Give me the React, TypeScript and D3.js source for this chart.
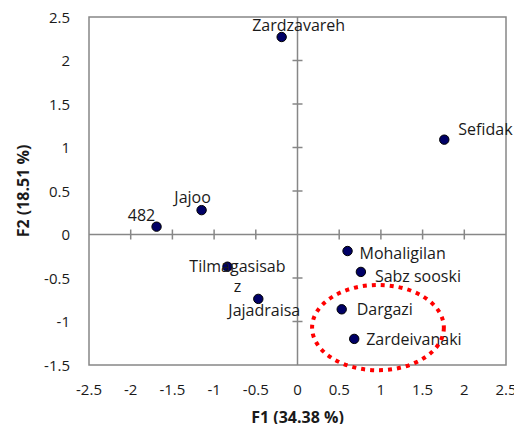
import React, { useEffect, useRef } from "react";
import * as d3 from "d3";

const names = ["Zardzavareh", "Sefidak", "Jajoo", "482", "Tilmagasisabz", "Jajadraisa", "Mohaligilan", "Sabz sooski", "Dargazi", "Zardeivanaki"];
const f1 = [-0.19, 1.76, -1.15, -1.69, -0.84, -0.47, 0.6, 0.76, 0.53, 0.68];
const f2 = [2.27, 1.09, 0.28, 0.09, -0.37, -0.74, -0.19, -0.43, -0.86, -1.2];
// label text lines (Tilmagasisabz wraps in the original)
const labelLines = [["Zardzavareh"], ["Sefidak"], ["Jajoo"], ["482"], ["Tilmagasisab", "z"], ["Jajadraisa"], ["Mohaligilan"], ["Sabz sooski"], ["Dargazi"], ["Zardeivanaki"]];
const labelDx = [17, 14, -9, -15, 10, 6, 12, 14, 15, 12];
const labelDy = [-6, -5, -7, -6, 5, 17, 8, 10, 6, 6];
const labelAnchor = ["middle", "start", "middle", "middle", "middle", "middle", "start", "start", "start", "start"];
const xTicks = [-2.5, -2, -1.5, -1, -0.5, 0, 0.5, 1, 1.5, 2, 2.5];
const yTicks = [-1.5, -1, -0.5, 0, 0.5, 1, 1.5, 2, 2.5];
const ellipse = { cx: 0.965, cy: -1.07, rx: 0.79, ry: 0.49 };

export default function App() {
  const svgRef = useRef<SVGSVGElement>(null);

  useEffect(() => {
    if (!svgRef.current) return;
    const svg = d3.select(svgRef.current);
    svg.selectAll("*").remove();

    const left = 89, right = 506, top = 17, bottom = 365;
    const x = d3.scaleLinear().domain([-2.5, 2.5]).range([left, right]);
    const y = d3.scaleLinear().domain([-1.5, 2.5]).range([bottom, top]);
    const font = "'Open Sans', Lato, sans-serif";
    const grey = "#878787";
    const ink = "#1a1a1a";

    // plot box
    svg.append("rect")
      .attr("x", left).attr("y", top)
      .attr("width", right - left).attr("height", bottom - top)
      .attr("fill", "none").attr("stroke", grey).attr("stroke-width", 1.5);

    // zero axes with crossing ticks
    svg.append("line")
      .attr("x1", left).attr("x2", right).attr("y1", y(0)).attr("y2", y(0))
      .attr("stroke", grey).attr("stroke-width", 1.5);
    svg.append("line")
      .attr("x1", x(0)).attr("x2", x(0)).attr("y1", top).attr("y2", bottom)
      .attr("stroke", grey).attr("stroke-width", 1.5);

    svg.append("g").selectAll("line")
      .data(xTicks.filter((t) => t > -2.5 && t < 2.5 && t !== 0))
      .join("line")
      .attr("x1", (d) => x(d)).attr("x2", (d) => x(d))
      .attr("y1", y(0) - 5).attr("y2", y(0) + 5)
      .attr("stroke", grey).attr("stroke-width", 1.5);
    svg.append("g").selectAll("line")
      .data(yTicks.filter((t) => t > -1.5 && t < 2.5 && t !== 0))
      .join("line")
      .attr("x1", x(0) - 5).attr("x2", x(0) + 5)
      .attr("y1", (d) => y(d)).attr("y2", (d) => y(d))
      .attr("stroke", grey).attr("stroke-width", 1.5);

    // tick labels
    svg.append("g").selectAll("text")
      .data(xTicks).join("text")
      .attr("x", (d) => x(d)).attr("y", bottom + 30)
      .attr("text-anchor", "middle")
      .attr("font-family", font).attr("font-size", 15).attr("fill", ink)
      .text((d) => String(d));
    svg.append("g").selectAll("text")
      .data(yTicks).join("text")
      .attr("x", left - 19).attr("y", (d) => y(d) + 5.5)
      .attr("text-anchor", "end")
      .attr("font-family", font).attr("font-size", 15).attr("fill", ink)
      .text((d) => String(d));

    // axis titles
    svg.append("text")
      .attr("x", x(0)).attr("y", 423)
      .attr("text-anchor", "middle")
      .attr("font-family", font).attr("font-size", 16).attr("font-weight", "bold").attr("fill", ink)
      .text("F1 (34.38 %)");
    svg.append("text")
      .attr("transform", `translate(29,${(top + bottom) / 2}) rotate(-90)`)
      .attr("text-anchor", "middle")
      .attr("font-family", font).attr("font-size", 16).attr("font-weight", "bold").attr("fill", ink)
      .text("F2 (18.51 %)");

    // points
    const idx = d3.range(names.length);
    svg.append("g").selectAll("circle")
      .data(idx).join("circle")
      .attr("cx", (i) => x(f1[i])).attr("cy", (i) => y(f2[i]))
      .attr("r", 4.7)
      .attr("fill", "#000066").attr("stroke", "#000").attr("stroke-width", 1);

    // labels
    const lbl = svg.append("g").selectAll("text")
      .data(idx).join("text")
      .attr("x", (i) => x(f1[i]) + labelDx[i])
      .attr("y", (i) => y(f2[i]) + labelDy[i])
      .attr("text-anchor", (i) => labelAnchor[i])
      .attr("font-family", font).attr("font-size", 16).attr("fill", ink);
    lbl.each(function (i) {
      const t = d3.select(this);
      labelLines[i].forEach((s, k) => {
        t.append("tspan")
          .attr("x", x(f1[i]) + labelDx[i])
          .attr("dy", k === 0 ? 0 : 20)
          .text(s);
      });
    });

    // red dotted ellipse
    svg.append("ellipse")
      .attr("cx", x(ellipse.cx)).attr("cy", y(ellipse.cy))
      .attr("rx", x(ellipse.rx) - x(0)).attr("ry", y(0) - y(ellipse.ry))
      .attr("fill", "none").attr("stroke", "#ff0000")
      .attr("stroke-width", 4).attr("stroke-dasharray", "4 5");
  }, []);

  return (
    <div style={{ width: 522, height: 432, margin: -8 }}>
      <svg ref={svgRef} width={522} height={432} style={{ display: "block", background: "#fff" }} />
    </div>
  );
}
